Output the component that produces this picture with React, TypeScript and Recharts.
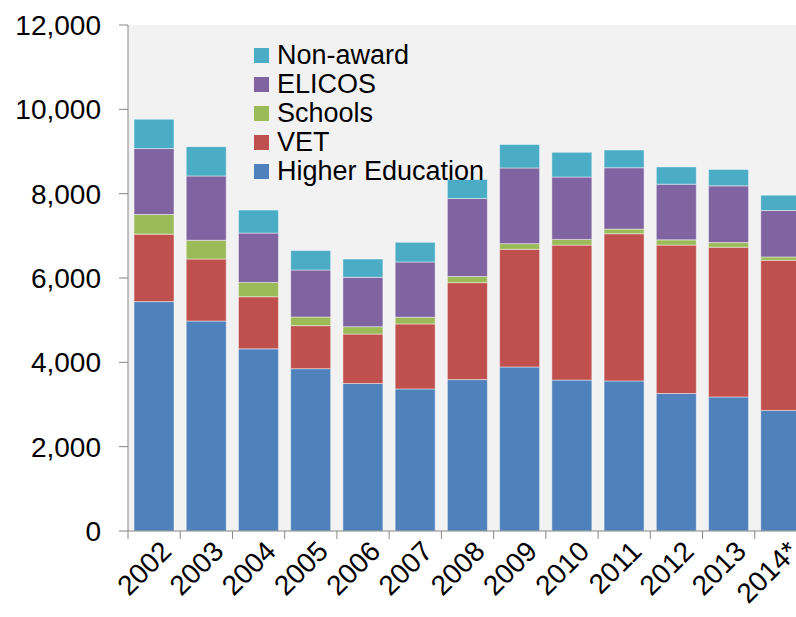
import {
  BarChart,
  Bar,
  XAxis,
  YAxis,
  CartesianGrid,
} from "recharts";

const years = ["2002", "2003", "2004", "2005", "2006", "2007", "2008", "2009", "2010", "2011", "2012", "2013", "2014*"];

const higherEd = [5440, 4980, 4320, 3850, 3500, 3370, 3590, 3890, 3580, 3560, 3260, 3180, 2860];
const vet = [1600, 1470, 1235, 1020, 1170, 1540, 2300, 2790, 3200, 3490, 3520, 3550, 3560];
const schools = [465, 445, 340, 205, 175, 160, 145, 135, 135, 110, 125, 110, 80];
const elicos = [1565, 1525, 1170, 1115, 1170, 1310, 1850, 1795, 1480, 1455, 1320, 1345, 1100];
const nonAward = [695, 695, 545, 460, 435, 465, 450, 555, 585, 420, 410, 390, 365];

const yTicks = [0, 2000, 4000, 6000, 8000, 10000, 12000];

const series = [
  { key: "higherEd", name: "Higher Education", color: "#4f81bd" },
  { key: "vet", name: "VET", color: "#c0504d" },
  { key: "schools", name: "Schools", color: "#9bbb59" },
  { key: "elicos", name: "ELICOS", color: "#8064a2" },
  { key: "nonAward", name: "Non-award", color: "#4bacc6" },
];

const data = years.map((year, i) => ({
  year,
  higherEd: higherEd[i],
  vet: vet[i],
  schools: schools[i],
  elicos: elicos[i],
  nonAward: nonAward[i],
}));

const FONT = "'Liberation Sans', Arial, sans-serif";
const BAND = 52.23; // category width, used for the boundary tick marks

function XTick({ x, y, payload }: any) {
  const left = x - BAND / 2;
  const tx = x + 19;
  const ty = y + 14;
  return (
    <g>
      <line x1={left} y1={y - 8} x2={left} y2={y} stroke="#868686" strokeWidth={1} />
      <text
        x={tx}
        y={ty}
        transform={`rotate(-45, ${tx}, ${ty})`}
        textAnchor="end"
        fontSize={28}
        fontFamily={FONT}
        fill="#000"
      >
        {payload.value}
      </text>
    </g>
  );
}

const barStroke = "rgba(255,255,255,0.45)";

export default function App() {
  return (
    <div style={{ position: "fixed", left: 0, top: 0, width: 796, height: 617, overflow: "hidden", background: "#fff" }}>
      <div
        style={{
          position: "absolute",
          left: 230,
          top: -26,
          fontFamily: FONT,
          fontSize: 28,
          lineHeight: "28px",
          whiteSpace: "nowrap",
          color: "#000",
        }}
      >
        Student enrolments in Australia
      </div>
      <BarChart
        width={807}
        height={617}
        data={data}
        margin={{ top: 25, right: 0, left: 0, bottom: 0 }}
        barSize={40}
      >
        <CartesianGrid fill="#f2f2f2" horizontal={false} vertical={false} />
        <XAxis
          dataKey="year"
          height={86}
          interval={0}
          tickLine={false}
          axisLine={{ stroke: "#868686" }}
          tick={<XTick />}
        />
        <YAxis
          width={128}
          domain={[0, 12000]}
          ticks={yTicks}
          interval={0}
          tickSize={9}
          tickMargin={18}
          tickLine={{ stroke: "#868686" }}
          axisLine={{ stroke: "#868686" }}
          tickFormatter={(v: number) => v.toLocaleString("en-US")}
          tick={{ fontSize: 28, fontFamily: FONT, fill: "#000" }}
        />
        {series.map((s) => (
          <Bar
            key={s.key}
            dataKey={s.key}
            name={s.name}
            stackId="a"
            fill={s.color}
            stroke={barStroke}
            isAnimationActive={false}
          />
        ))}
      </BarChart>
      <div
        style={{
          position: "absolute",
          left: 254,
          top: 41,
          fontFamily: FONT,
          fontSize: 27,
          lineHeight: "29px",
          color: "#000",
        }}
      >
        {[...series].reverse().map((s) => (
          <div key={s.key} style={{ display: "flex", alignItems: "center", whiteSpace: "nowrap" }}>
            <span style={{ width: 15, height: 15, background: s.color, display: "inline-block", marginRight: 8 }} />
            <span>{s.name}</span>
          </div>
        ))}
      </div>
    </div>
  );
}
